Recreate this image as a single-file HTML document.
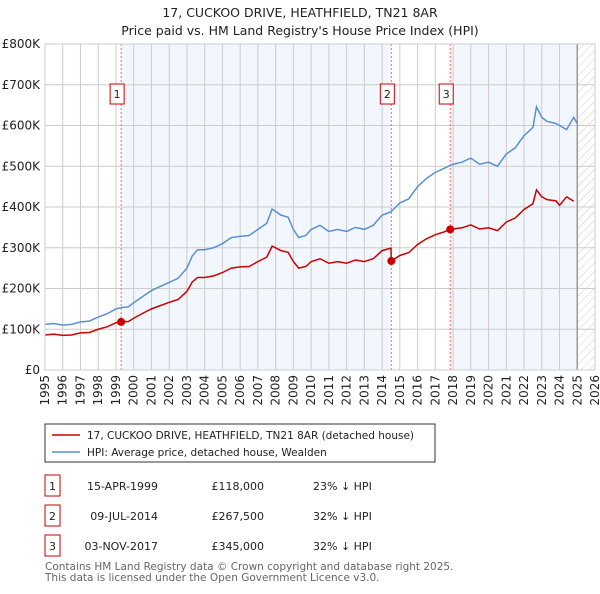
<!DOCTYPE html>
<html><head><meta charset="utf-8"><style>
body{margin:0;background:#fff;font-family:"DejaVu Sans",sans-serif;}
</style></head><body>
<svg width="600" height="590" xmlns="http://www.w3.org/2000/svg" font-family="DejaVu Sans, sans-serif">
<defs><pattern id="hatch" width="6" height="6" patternUnits="userSpaceOnUse" patternTransform="rotate(45)"><line x1="0" y1="0" x2="0" y2="6" stroke="#ccc" stroke-width="1"/></pattern></defs>
<text x="300" y="17" text-anchor="middle" font-size="12.5" fill="#222">17, CUCKOO DRIVE, HEATHFIELD, TN21 8AR</text>
<text x="300" y="35" text-anchor="middle" font-size="12.5" fill="#222">Price paid vs. HM Land Registry's House Price Index (HPI)</text>
<g id="plot"></g>
<g>
<rect x="45" y="424" width="390" height="38" fill="#fff" stroke="#333"/>
<line x1="52" y1="435" x2="80" y2="435" stroke="#cc0000" stroke-width="1.5"/>
<text x="87" y="439" font-size="10.5" fill="#222">17, CUCKOO DRIVE, HEATHFIELD, TN21 8AR (detached house)</text>
<line x1="52" y1="452" x2="80" y2="452" stroke="#5b8fd4" stroke-width="1.5"/>
<text x="87" y="456" font-size="10.5" fill="#222">HPI: Average price, detached house, Wealden</text>
</g>
<g font-size="11" fill="#222">
<rect x="45" y="475" width="15" height="21" fill="#fff" stroke="#cc0000"/><text x="52.5" y="490" text-anchor="middle">1</text>
<text x="158" y="490" text-anchor="end">15-APR-1999</text><text x="264" y="490" text-anchor="end">£118,000</text><text x="313" y="490">23% ↓ HPI</text>
<rect x="45" y="505" width="15" height="21" fill="#fff" stroke="#cc0000"/><text x="52.5" y="520" text-anchor="middle">2</text>
<text x="158" y="520" text-anchor="end">09-JUL-2014</text><text x="264" y="520" text-anchor="end">£267,500</text><text x="313" y="520">32% ↓ HPI</text>
<rect x="45" y="535" width="15" height="21" fill="#fff" stroke="#cc0000"/><text x="52.5" y="550" text-anchor="middle">3</text>
<text x="158" y="550" text-anchor="end">03-NOV-2017</text><text x="264" y="550" text-anchor="end">£345,000</text><text x="313" y="550">32% ↓ HPI</text>
</g>
<text x="45" y="570" font-size="10.5" fill="#666">Contains HM Land Registry data © Crown copyright and database right 2025.</text>
<text x="45" y="581" font-size="10.5" fill="#666">This data is licensed under the Open Government Licence v3.0.</text>
</svg>
<script>
const hpiYears=[1995,1995.5,1996,1996.5,1997,1997.5,1998,1998.5,1999,1999.3,1999.7,2000,2000.5,2001,2001.5,2002,2002.5,2003,2003.3,2003.6,2004,2004.5,2005,2005.5,2006,2006.5,2007,2007.5,2007.8,2008.3,2008.7,2009,2009.3,2009.7,2010,2010.5,2011,2011.5,2012,2012.5,2013,2013.5,2014,2014.5,2015,2015.5,2016,2016.5,2017,2017.5,2018,2018.5,2019,2019.5,2020,2020.5,2021,2021.5,2022,2022.5,2022.7,2023,2023.3,2023.8,2024,2024.4,2024.8,2025];
const hpiValues=[112,114,110,112,118,120,130,138,150,153,155,165,180,195,205,215,225,250,280,295,295,300,310,325,328,330,345,360,395,380,375,345,325,330,345,355,340,345,340,350,345,355,380,388,410,420,450,470,485,495,505,510,520,505,510,500,530,545,575,595,646,620,610,605,600,590,620,605];
const paidYears=[1995,1995.5,1996,1996.5,1997,1997.5,1998,1998.5,1999,1999.3,1999.7,2000,2000.5,2001,2001.5,2002,2002.5,2003,2003.3,2003.6,2004,2004.5,2005,2005.5,2006,2006.5,2007,2007.5,2007.8,2008.3,2008.7,2009,2009.3,2009.7,2010,2010.5,2011,2011.5,2012,2012.5,2013,2013.5,2014,2014.5,2014.52,2015,2015.5,2016,2016.5,2017,2017.5,2017.84,2018.5,2019,2019.5,2020,2020.5,2021,2021.5,2022,2022.5,2022.7,2023,2023.3,2023.8,2024,2024.4,2024.8,2025];
const paidValues=[86,88,85,86,91,92,100,106,116,118,119,127,139,150,158,166,173,193,216,227,227,231,239,250,253,254,266,277,304,293,289,266,250,254,266,273,262,266,262,270,266,273,293,299,267.5,281,288,308,322,332,339,345,349,356,346,349,342,363,373,394,408,442,425,418,415,404,425,414];
const saleYears=[1999.29,2014.52,2017.84];
const saleValues=[118,267.5,345];
const saleLabels=["1","2","3"];
const yTicks=[0,100,200,300,400,500,600,700,800];
const yTickLabels=["£0","£100K","£200K","£300K","£400K","£500K","£600K","£700K","£800K"];
const xTicks=[];for(let y=1995;y<=2026;y++)xTicks.push(y);

const X0=45,X1=595,Y0=370,Y1=44;
const xs=y=>X0+(y-1995)/31*(X1-X0);
const ys=v=>Y0-v/800*(Y0-Y1);
const NS="http://www.w3.org/2000/svg";
const g=document.getElementById('plot');
function mk(t,a){const e=document.createElementNS(NS,t);for(const k in a)e.setAttribute(k,a[k]);g.appendChild(e);return e;}
let e;
e=mk('rect',{x:xs(saleYears[0]),y:Y1,width:xs(saleYears[1])-xs(saleYears[0]),height:Y0-Y1,fill:'#f2f6fd'});

e=mk('rect',{x:xs(saleYears[2]),y:Y1,width:xs(2025)-xs(saleYears[2]),height:Y0-Y1,fill:'#f2f6fd'});

e=mk('rect',{x:xs(2025),y:Y1,width:xs(2026)-xs(2025),height:Y0-Y1,fill:'url(#hatch)'});

xTicks.forEach(t=>{e=mk('line',{x1:xs(t),x2:xs(t),y1:Y1,y2:Y0,stroke:'#ccc'});

e=mk('text',{x:0,y:0,transform:`translate(${xs(t)+4},${Y0+5}) rotate(-90)`,'text-anchor':'end','font-size':'12',fill:'#222'});e.textContent=t;
});
yTicks.forEach((t,i)=>{e=mk('line',{x1:X0,x2:X1,y1:ys(t),y2:ys(t),stroke:'#ccc'});

e=mk('text',{x:40,y:ys(t)+4,'text-anchor':'end','font-size':'12',fill:'#222'});e.textContent=yTickLabels[i];
});
e=mk('line',{x1:xs(2025),x2:xs(2025),y1:Y1,y2:Y0,stroke:'#999','stroke-width':1.5});

saleYears.forEach((s,i)=>{e=mk('line',{x1:xs(s),x2:xs(s),y1:Y1,y2:Y0,stroke:'#f66','stroke-dasharray':'2,2'});

e=mk('rect',{x:xs(s)-11,y:84,width:14,height:20,fill:'#fff',stroke:'#cc0000'});

e=mk('text',{x:xs(s)-4,y:98,'text-anchor':'middle','font-size':'11',fill:'#222'});e.textContent=saleLabels[i];
});
e=mk('polyline',{points:hpiYears.map((y,i)=>xs(y)+','+ys(hpiValues[i])).join(' '),fill:'none',stroke:'#5b8fd4','stroke-width':1.5});

e=mk('polyline',{points:paidYears.map((y,i)=>xs(y)+','+ys(paidValues[i])).join(' '),fill:'none',stroke:'#cc0000','stroke-width':1.5});

saleYears.forEach((s,i)=>{e=mk('circle',{cx:xs(s),cy:ys(saleValues[i]),r:4,fill:'#cc0000'});
});
e=mk('rect',{x:X0,y:Y1,width:X1-X0,height:Y0-Y1,fill:'none',stroke:'#ccc'});

</script>
</body></html>
